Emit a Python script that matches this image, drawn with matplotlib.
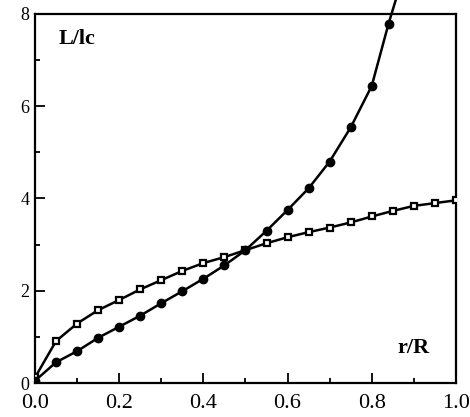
import matplotlib.pyplot as plt
from matplotlib.ticker import MultipleLocator

# r/R positions
r_sq = [0.0, 0.05, 0.10, 0.15, 0.20, 0.25, 0.30, 0.35, 0.40, 0.45, 0.50,
        0.55, 0.60, 0.65, 0.70, 0.75, 0.80, 0.85, 0.90, 0.95, 1.00]
L_sq = [0.12, 0.91, 1.29, 1.58, 1.80, 2.03, 2.23, 2.43, 2.60, 2.73, 2.88,
        3.03, 3.16, 3.27, 3.37, 3.48, 3.61, 3.73, 3.84, 3.90, 3.96]

r_ci = [0.0, 0.05, 0.10, 0.15, 0.20, 0.25, 0.30, 0.35, 0.40, 0.45, 0.50,
        0.55, 0.60, 0.65, 0.70, 0.75, 0.80, 0.84]
L_ci = [0.05, 0.45, 0.69, 0.98, 1.22, 1.46, 1.73, 1.99, 2.26, 2.55, 2.88,
        3.30, 3.75, 4.22, 4.80, 5.54, 6.44, 7.79]

# line tail running off the top of the frame
r_tail = [0.84, 0.857]
L_tail = [7.79, 8.3]

serif = ['Liberation Serif', 'DejaVu Serif']

fig = plt.figure(figsize=(4.7, 4.17), dpi=100)
ax = fig.add_axes([0.0745, 0.0815, 0.8955, 0.885])

ax.plot(r_sq, L_sq, color='black', lw=1.8, marker='s', ms=5,
        mfc='white', mec='black', mew=1.6, zorder=3)
ax.plot(r_ci, L_ci, color='black', lw=1.8, marker='o', ms=6,
        mfc='black', mec='black', zorder=4)
ax.plot(r_tail, L_tail, color='black', lw=1.8, clip_on=False, zorder=4)

ax.set_xlim(0, 1.0)
ax.set_ylim(0, 8)
ax.xaxis.set_minor_locator(MultipleLocator(0.1))
ax.yaxis.set_minor_locator(MultipleLocator(1))
ax.set_xticks([0, 0.2, 0.4, 0.6, 0.8, 1.0])
ax.set_xticklabels(['0.0', '0.2', '0.4', '0.6', '0.8', '1.0'])
ax.set_yticks([0, 2, 4, 6, 8])
ax.set_yticklabels(['0', '2', '4', '6', '8'])

ax.tick_params(which='both', direction='in', top=False, right=False, width=1.3)
ax.tick_params(which='major', length=7)
ax.tick_params(which='minor', length=3.5)
ax.tick_params(axis='x', pad=8)
ax.tick_params(axis='y', pad=4)
for lbl in ax.get_xticklabels():
    lbl.set_family(serif)
    lbl.set_fontsize(16)
for lbl in ax.get_yticklabels():
    lbl.set_family(serif)
    lbl.set_fontsize(13)

for sp in ax.spines.values():
    sp.set_linewidth(1.6)

ax.text(0.10, 7.45, 'L/lc', family=serif, fontsize=16, fontweight='bold',
        ha='center', va='center')
ax.text(0.90, 0.76, 'r/R', family=serif, fontsize=16, fontweight='bold',
        ha='center', va='center')

fig.savefig('out.png', dpi=100)
